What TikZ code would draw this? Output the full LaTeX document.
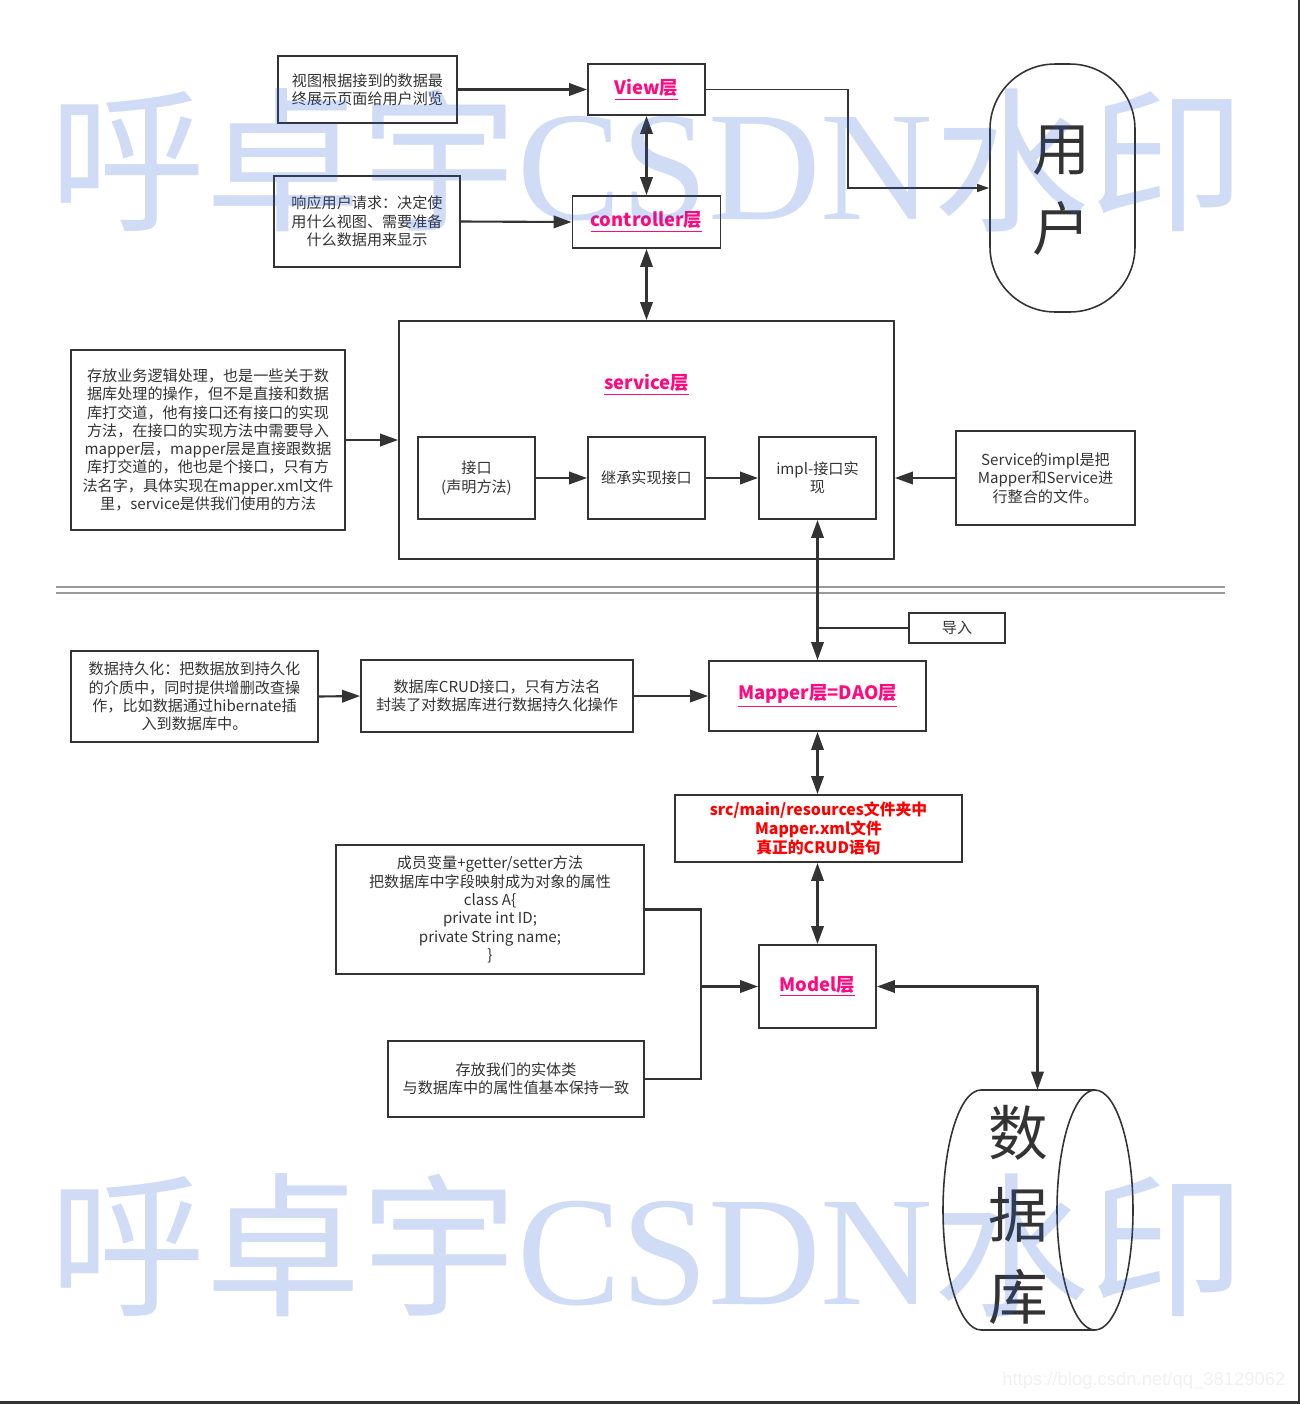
\documentclass[tikz,border=0pt]{standalone}
\usepackage{fontspec}
\setmainfont{Noto Sans CJK SC}
\newfontfamily\urlfont{Liberation Sans}
\newfontfamily\markserif{Liberation Serif}
\usepackage{graphicx}
\usepackage{tikz}
\usetikzlibrary{arrows.meta}
\definecolor{ink}{HTML}{333333}
\definecolor{layerpink}{HTML}{FF0A7E}
\definecolor{markblue}{RGB}{40,90,210}
\newcommand{\marktext}{呼卓宇{\markserif CSDN}水印}

\begin{document}
\begin{tikzpicture}[x=0.02cm,y=-0.02cm,
        >={Triangle[length=0.36cm,width=0.25cm]},
        box/.style={draw=ink,line width=1.1pt,text=ink,align=center,inner sep=0pt,
            font=\fontsize{8.6}{10.4}\selectfont},
        layer/.style={box,text=layerpink,font=\fontsize{10.5}{12}\selectfont\bfseries},
        link/.style={draw=ink,line width=1.2pt},
        big/.style={text=ink,align=center,inner sep=0pt},
        wmark/.style={text=markblue,text opacity=0.22,inner sep=0pt}]
        \useasboundingbox (0,0) rectangle (1300,1404);

        % View and controller
        \node[box,minimum width=3.58cm,minimum height=1.34cm] (viewnote) at (367.5,89.5)
            {视图根据接到的数据最\\终展示页面给用户浏览};
        \node[layer,minimum width=2.34cm,minimum height=1.02cm] (view) at (646.5,89.5) {\underline{View层}};
        \node[box,minimum width=3.72cm,minimum height=1.82cm] (ctrlnote) at (367,221.5)
            {响应用户请求：决定使\\用什么视图、需要准备\\什么数据用来显示};
        \node[layer,minimum width=2.96cm,minimum height=1.04cm] (ctrl) at (646.5,222) {\underline{controller层}};

        % User
        \node[draw=ink,line width=0.9pt,rounded corners=1.3cm,minimum width=2.9cm,minimum height=4.96cm] (user) at (1062.5,188) {};
        \node[big,font=\fontsize{33}{45.4}\selectfont] (usertext) at (1061,191) {用\\户};
        \coordinate (bend) at (848,188);

        % Service
        \node[draw=ink,line width=1.1pt,minimum width=9.9cm,minimum height=4.76cm] (service) at (646.5,440) {};
        \node[text=layerpink,font=\fontsize{10.5}{12}\selectfont\bfseries] (svctitle) at (646.5,385) {\underline{service层}};
        \node[box,minimum width=2.34cm,minimum height=1.64cm] (iface) at (476.5,478) {接口\\(声明方法)};
        \node[box,minimum width=2.34cm,minimum height=1.64cm] (inherit) at (646.5,478) {继承实现接口};
        \node[box,minimum width=2.34cm,minimum height=1.64cm] (impl) at (817.5,478) {impl-接口实\\现};
        \node[box,minimum width=5.48cm,minimum height=3.6cm] (svcnote) at (208,440)
            {存放业务逻辑处理，也是一些关于数\\据库处理的操作，但不是直接和数据\\库打交道，他有接口还有接口的实现\\方法，在接口的实现方法中需要导入\\mapper层，mapper层是直接跟数据\\库打交道的，他也是个接口，只有方\\法名字，具体实现在mapper.xml文件\\里，service是供我们使用的方法};
        \node[box,minimum width=3.58cm,minimum height=1.88cm] (implnote) at (1045.5,478)
            {Service的impl是把\\Mapper和Service进\\行整合的文件。};

        % Separator
        \draw[gray!80,line width=0.8pt] (56,587) -- (1225,587);
        \draw[gray!80,line width=0.8pt] (56,593) -- (1225,593);

        % Mapper
        \node[box,minimum width=1.92cm,minimum height=0.6cm] (import) at (957,628) {导入};
        \node[layer,minimum width=4.34cm,minimum height=1.4cm] (mapper) at (817.5,696) {\underline{Mapper层=DAO层}};
        \node[box,minimum width=4.94cm,minimum height=1.82cm] (persistnote) at (194.5,696.5)
            {数据持久化：把数据放到持久化\\的介质中，同时提供增删改查操\\作，比如数据通过hibernate插\\入到数据库中。};
        \node[box,minimum width=5.44cm,minimum height=1.44cm] (crud) at (497,696)
            {数据库CRUD接口，只有方法名\\封装了对数据库进行数据持久化操作};
        \node[box,text=red,font=\fontsize{9}{10.6}\selectfont\bfseries,minimum width=5.74cm,minimum height=1.34cm] (res) at (818.5,828.5)
            {src/main/resources文件夹中\\Mapper.xml文件\\真正的CRUD语句};

        % Model
        \node[layer,minimum width=2.34cm,minimum height=1.66cm] (model) at (817.5,986.5) {\underline{Model层}};
        \node[box,minimum width=6.16cm,minimum height=2.58cm] (modelnote) at (490,909.5)
            {成员变量+getter/setter方法\\把数据库中字段映射成为对象的属性\\class A\{\\private int ID;\\private String name;\\\}};
        \node[box,minimum width=5.12cm,minimum height=1.52cm] (entitynote) at (516,1079)
            {存放我们的实体类\\与数据库中的属性值基本保持一致};
        \coordinate (join) at (701,986.5);

        % Database
        \node[minimum width=3.82cm,minimum height=4.8cm,inner sep=0pt] (db) at (1037.5,1210) {};
        \draw[ink,line width=0.9pt] (1095,1090) -- (981,1090)
            arc[start angle=90,end angle=270,x radius=0.76cm,y radius=2.4cm] -- (1095,1330);
        \draw[ink,line width=0.9pt] (1095,1210) ellipse[x radius=0.76cm,y radius=2.4cm];
        \node[big,font=\fontsize{34}{46.5}\selectfont] (dbtext) at (1018,1215) {数\\据\\库};

        % Connectors
        \draw[link,->] (viewnote.east) -- (view.west);
        \draw[link,->] (ctrlnote.east) -- (ctrl.west);
        \draw[link,<->] (view.south) -- (view.south |- ctrl.north);
        \draw[link,<->] (ctrl.south) -- (ctrl.south |- service.north);
        \draw[draw=ink,line width=0.7pt,-{Triangle[length=0.24cm,width=0.16cm]}] (view.east) -| (bend) -- (user.west);
        \draw[link,->] (svcnote.east) -- (svcnote.east -| service.west);
        \draw[link,->] (iface.east) -- (inherit.west);
        \draw[link,->] (inherit.east) -- (impl.west);
        \draw[link,->] (implnote.west) -- (implnote.west -| service.east);
        \draw[link,<->] (impl.south) -- (mapper.north);
        \draw[link] (import.west) -- (import.west -| mapper.north);
        \draw[link,->] (persistnote.east) -- (crud.west);
        \draw[link,->] (crud.east) -- (mapper.west);
        \draw[link,<->] (mapper.south) -- (mapper.south |- res.north);
        \draw[link,<->] (res.south -| model.north) -- (model.north);
        \draw[link] (modelnote.east) -| (join) -- (join |- entitynote.east) -- (entitynote.east);
        \draw[link,->] (join) -- (model.west);
        \draw[link,<->] (model.east) -| (db.north);

        % Watermark
        \node[wmark] (mark1) at (647.5,160) {\resizebox{23.9cm}{!}{\marktext}};
        \node[wmark] (mark2) at (647.5,1245) {\resizebox{23.9cm}{!}{\marktext}};
        \node[text=gray!12,font=\urlfont\fontsize{10.5}{12}\selectfont,anchor=west,inner sep=0pt] (url) at (1002,1381)
            {https://blog.csdn.net/qq\_38129062};

        % Frame
        \fill[ink] (1298,0) rectangle (1300,1404);
        \fill[ink] (0,1401) rectangle (1300,1404);
\end{tikzpicture}
\end{document}
